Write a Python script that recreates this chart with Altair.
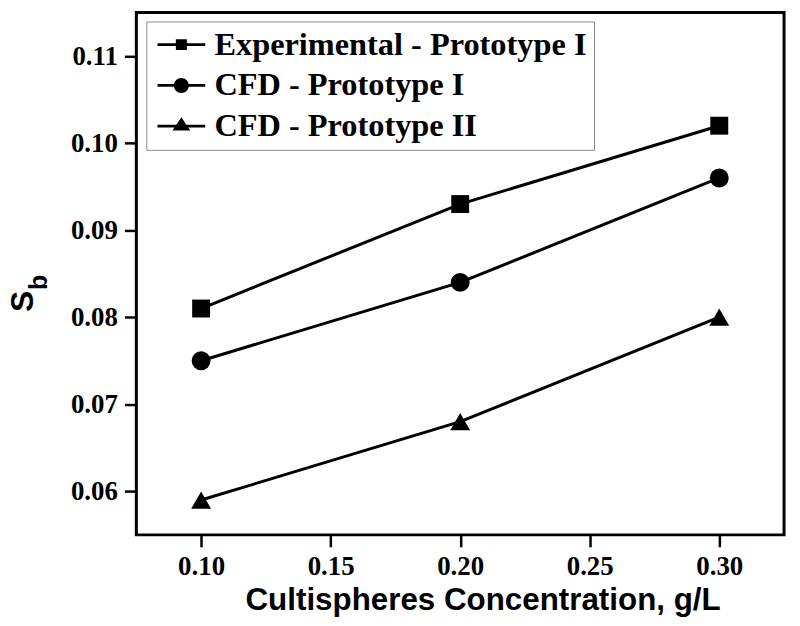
import altair as alt
import pandas as pd

# ---- data ----
conc = [0.10, 0.20, 0.30]
series_names = ["Experimental - Prototype I", "CFD - Prototype I", "CFD - Prototype II"]
exp_proto1 = [0.081, 0.093, 0.102]
cfd_proto1 = [0.075, 0.084, 0.096]
cfd_proto2 = [0.059, 0.068, 0.080]
x_ticks = [0.10, 0.15, 0.20, 0.25, 0.30]
y_ticks = [0.06, 0.07, 0.08, 0.09, 0.10, 0.11]

rows = []
for name, vals in zip(series_names, [exp_proto1, cfd_proto1, cfd_proto2]):
    for c, v in zip(conc, vals):
        rows.append({"conc": c, "sb": v, "series": name})
df = pd.DataFrame(rows)

SERIF = "Liberation Serif"
SANS = "Liberation Sans"

x_enc = alt.X(
    "conc:Q",
    scale=alt.Scale(domain=[0.075, 0.325], nice=False, zero=False),
    axis=alt.Axis(
        values=x_ticks, format=".2f", title="Cultispheres Concentration, g/L",
        titleFont=SANS, titleFontSize=31.5, titleFontWeight="bold", titleColor="black",
        titleX=348, titleY=75, titleAlign="center", titleBaseline="alphabetic",
        labelFont=SERIF, labelFontSize=27, labelFontWeight="bold", labelColor="black",
        labelPadding=7, tickSize=12, tickWidth=2.5, tickColor="black",
        domain=False, grid=False,
    ),
)
y_enc = alt.Y(
    "sb:Q",
    scale=alt.Scale(domain=[0.055, 0.115], nice=False, zero=False),
    axis=alt.Axis(
        values=y_ticks, format=".2f", title=None,
        labelFont=SERIF, labelFontSize=27, labelFontWeight="bold", labelColor="black",
        labelPadding=7, tickSize=12, tickWidth=2.5, tickColor="black",
        domain=False, grid=False,
    ),
)

lines = alt.Chart(df).mark_line(color="black", strokeWidth=3).encode(
    x=x_enc, y=y_enc, detail="series:N"
)

points = alt.Chart(df).mark_point(filled=True, color="black", opacity=1).encode(
    x="conc:Q",
    y="sb:Q",
    shape=alt.Shape(
        "series:N",
        scale=alt.Scale(domain=series_names, range=["square", "circle", "triangle-up"]),
        legend=None,
    ),
    size=alt.Size(
        "series:N",
        scale=alt.Scale(domain=series_names, range=[324, 400, 625]),
        legend=None,
    ),
)

# legend symbols: a filled bar (the line) with the marker in the middle
# (unit = 8 px at symbolSize 256; all subpaths clockwise so they fill as a union)
bar = "M-3,-0.17H3V0.17H-3Z"
sq_path = bar + "M-0.69,-0.69H0.69V0.69H-0.69Z"
ci_path = bar + "M0,-0.94A0.94,0.94,0,1,1,0,0.94A0.94,0.94,0,1,1,0,-0.94Z"
tr_path = bar + "M0,-1.12L1.12,0.55H-1.12Z"

legend_layer = alt.Chart(df).transform_filter("false").mark_point(
    filled=True, color="black", opacity=1
).encode(
    x="conc:Q",
    y="sb:Q",
    shape=alt.Shape(
        "series:N",
        scale=alt.Scale(domain=series_names, range=[sq_path, ci_path, tr_path]),
        legend=alt.Legend(
            title=None, orient="none", legendX=10, legendY=9, direction="vertical",
            symbolSize=256, symbolStrokeWidth=0, symbolOffset=12,
            symbolFillColor="black", symbolOpacity=1,
            labelFont=SERIF, labelFontSize=32.5, labelFontWeight="bold", labelColor="black",
            labelOffset=17, labelLimit=600, padding=7, rowPadding=8,
            strokeColor="#8a8a8a", fillColor="white",
        ),
    ),
)

s_title = alt.Chart(pd.DataFrame({"t": ["S"]})).mark_text(
    text="S", font=SANS, fontSize=32, fontWeight="bold", angle=270,
    align="left", baseline="alphabetic", color="black",
).encode(x=alt.value(-104), y=alt.value(301))

b_title = alt.Chart(pd.DataFrame({"t": ["b"]})).mark_text(
    text="b", font=SANS, fontSize=25, fontWeight="bold", angle=270,
    align="left", baseline="alphabetic", color="black",
).encode(x=alt.value(-90), y=alt.value(279))

chart = alt.layer(lines, points, legend_layer, s_title, b_title).resolve_scale(
    shape="independent"
).properties(
    width=651, height=525,
    autosize=alt.AutoSizeParams(type="none"),
    padding={"left": 129, "top": 3, "right": 8, "bottom": 82},
    background="white",
).configure_view(stroke="black", strokeWidth=3)

chart.save("out.html", embed_options={"renderer": "svg", "actions": False})
